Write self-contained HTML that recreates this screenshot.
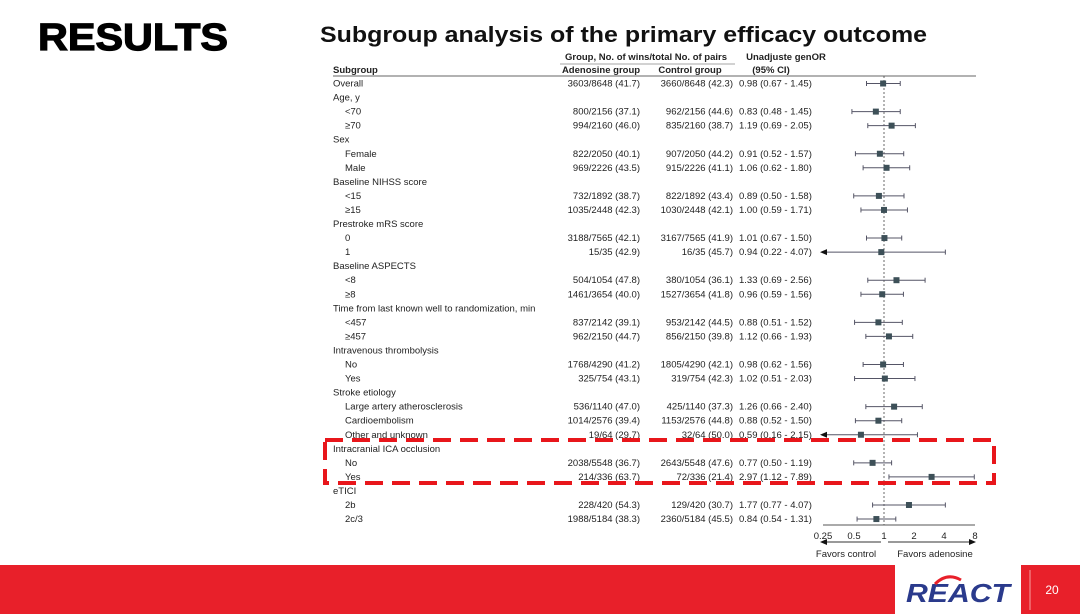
<!DOCTYPE html>
<html><head><meta charset="utf-8"><style>
html,body{margin:0;padding:0;background:#fff;}
svg{display:block;font-family:"Liberation Sans",Arial,sans-serif;}
</style></head><body>
<svg id="s" width="1080" height="614" viewBox="0 0 1080 614" xmlns="http://www.w3.org/2000/svg">
<rect width="1080" height="614" fill="#fff"/>
<text x="38" y="50" font-size="38" font-weight="bold" stroke="#000" stroke-width="1.2" textLength="190" lengthAdjust="spacingAndGlyphs">RESULTS</text>
<text x="320" y="42" font-size="22" font-weight="bold" fill="#111" textLength="607" lengthAdjust="spacingAndGlyphs">Subgroup analysis of the primary efficacy outcome</text>
<g font-size="9.5" fill="#222" id="tbl">
<text x="646" y="60" text-anchor="middle" font-weight="bold">Group, No. of wins/total No. of pairs</text>
<line x1="560" y1="64" x2="735" y2="64" stroke="#888" stroke-width="0.8"/>
<text x="786" y="60" text-anchor="middle" font-weight="bold">Unadjuste genOR</text>
<text x="333" y="73" font-weight="bold">Subgroup</text>
<text x="601" y="73" text-anchor="middle" font-weight="bold">Adenosine group</text>
<text x="690" y="73" text-anchor="middle" font-weight="bold">Control group</text>
<text x="771" y="73" text-anchor="middle" font-weight="bold">(95% CI)</text>
<line x1="333" y1="76" x2="976" y2="76" stroke="#666" stroke-width="0.9"/>
<line x1="884" y1="76" x2="884" y2="525" stroke="#444" stroke-width="0.8" stroke-dasharray="2,2"/>
</g>
<rect x="325" y="440" width="669" height="43" fill="none" stroke="#e8161b" stroke-width="4" stroke-dasharray="18,9"/>
<g stroke="#555" stroke-width="1" fill="none">
<line x1="823" y1="525" x2="975" y2="525"/>
</g>
<g font-size="9.5" fill="#222" text-anchor="middle">
<text x="823" y="539">0.25</text><text x="854" y="539">0.5</text><text x="884" y="539">1</text><text x="914" y="539">2</text><text x="944" y="539">4</text><text x="975" y="539">8</text>
<text x="846" y="557">Favors control</text><text x="935" y="557">Favors adenosine</text>
</g>
<line x1="826" y1="542" x2="881" y2="542" stroke="#333"/>
<polygon points="820,542 827,539 827,545" fill="#111"/>
<line x1="888" y1="542" x2="970" y2="542" stroke="#333"/>
<polygon points="976,542 969,539 969,545" fill="#111"/>
<rect x="0" y="565" width="1080" height="49" fill="#e8202a"/>
<rect x="895" y="565" width="126" height="49" fill="#fff"/>
<text x="958" y="602" text-anchor="middle" font-size="26" font-weight="bold" font-style="italic" fill="#2a3a8c" textLength="104" lengthAdjust="spacingAndGlyphs">REACT</text>
<path d="M935,584 q12,-12 26,-4" stroke="#e8202a" stroke-width="3" fill="none"/>
<line x1="1030" y1="570" x2="1030" y2="610" stroke="#f6a0a0" stroke-width="1"/>
<text x="1052" y="594" text-anchor="middle" font-size="12" fill="#fff">20</text>
</svg>
<script>
var rows=[
["Overall",0,"3603/8648 (41.7)","3660/8648 (42.3)","0.98 (0.67 - 1.45)",0.98,0.67,1.45],
["Age, y",0],["<70",1,"800/2156 (37.1)","962/2156 (44.6)","0.83 (0.48 - 1.45)",0.83,0.48,1.45],
["≥70",1,"994/2160 (46.0)","835/2160 (38.7)","1.19 (0.69 - 2.05)",1.19,0.69,2.05],
["Sex",0],["Female",1,"822/2050 (40.1)","907/2050 (44.2)","0.91 (0.52 - 1.57)",0.91,0.52,1.57],
["Male",1,"969/2226 (43.5)","915/2226 (41.1)","1.06 (0.62 - 1.80)",1.06,0.62,1.80],
["Baseline NIHSS score",0],["<15",1,"732/1892 (38.7)","822/1892 (43.4)","0.89 (0.50 - 1.58)",0.89,0.5,1.58],
["≥15",1,"1035/2448 (42.3)","1030/2448 (42.1)","1.00 (0.59 - 1.71)",1,0.59,1.71],
["Prestroke mRS score",0],["0",1,"3188/7565 (42.1)","3167/7565 (41.9)","1.01 (0.67 - 1.50)",1.01,0.67,1.5],
["1",1,"15/35 (42.9)","16/35 (45.7)","0.94 (0.22 - 4.07)",0.94,0.22,4.07],
["Baseline ASPECTS",0],["<8",1,"504/1054 (47.8)","380/1054 (36.1)","1.33 (0.69 - 2.56)",1.33,0.69,2.56],
["≥8",1,"1461/3654 (40.0)","1527/3654 (41.8)","0.96 (0.59 - 1.56)",0.96,0.59,1.56],
["Time from last known well to randomization, min",0],["<457",1,"837/2142 (39.1)","953/2142 (44.5)","0.88 (0.51 - 1.52)",0.88,0.51,1.52],
["≥457",1,"962/2150 (44.7)","856/2150 (39.8)","1.12 (0.66 - 1.93)",1.12,0.66,1.93],
["Intravenous thrombolysis",0],["No",1,"1768/4290 (41.2)","1805/4290 (42.1)","0.98 (0.62 - 1.56)",0.98,0.62,1.56],
["Yes",1,"325/754 (43.1)","319/754 (42.3)","1.02 (0.51 - 2.03)",1.02,0.51,2.03],
["Stroke etiology",0],["Large artery atherosclerosis",1,"536/1140 (47.0)","425/1140 (37.3)","1.26 (0.66 - 2.40)",1.26,0.66,2.4],
["Cardioembolism",1,"1014/2576 (39.4)","1153/2576 (44.8)","0.88 (0.52 - 1.50)",0.88,0.52,1.5],
["Other and unknown",1,"19/64 (29.7)","32/64 (50.0)","0.59 (0.16 - 2.15)",0.59,0.16,2.15],
["Intracranial ICA occlusion",0],["No",1,"2038/5548 (36.7)","2643/5548 (47.6)","0.77 (0.50 - 1.19)",0.77,0.5,1.19],
["Yes",1,"214/336 (63.7)","72/336 (21.4)","2.97 (1.12 - 7.89)",2.97,1.12,7.89],
["eTICI",0],["2b",1,"228/420 (54.3)","129/420 (30.7)","1.77 (0.77 - 4.07)",1.77,0.77,4.07],
["2c/3",1,"1988/5184 (38.3)","2360/5184 (45.5)","0.84 (0.54 - 1.31)",0.84,0.54,1.31]];
var NS="http://www.w3.org/2000/svg",g=document.getElementById("tbl");
function el(t,a,txt){var e=document.createElementNS(NS,t);for(var k in a)e.setAttribute(k,a[k]);if(txt)e.textContent=txt;g.appendChild(e);return e;}
function X(v){return 884+30.3*Math.log2(v);}
rows.forEach(function(r,i){var y=86.5+i*14.05;
el("text",{x:r[1]?345:333,y:y},r[0]);
if(r.length>2){el("text",{x:640,y:y,"text-anchor":"end"},r[2]);el("text",{x:733,y:y,"text-anchor":"end"},r[3]);el("text",{x:739,y:y},r[4]);
var cy=y-3,lo=r[6],x1=lo<0.25?826:X(lo),x2=X(r[7]);
el("line",{x1:x1,y1:cy,x2:x2,y2:cy,stroke:"#556",'stroke-width':1});
if(lo<0.25)el("polygon",{points:"820,"+cy+" 827,"+(cy-3)+" 827,"+(cy+3),fill:"#111"});else el("line",{x1:x1,y1:cy-2.5,x2:x1,y2:cy+2.5,stroke:"#556"});
el("line",{x1:x2,y1:cy-2.5,x2:x2,y2:cy+2.5,stroke:"#556"});
el("rect",{x:X(r[5])-3,y:cy-3,width:6,height:6,fill:"#3d5058"});}
});
</script>
</body></html>
